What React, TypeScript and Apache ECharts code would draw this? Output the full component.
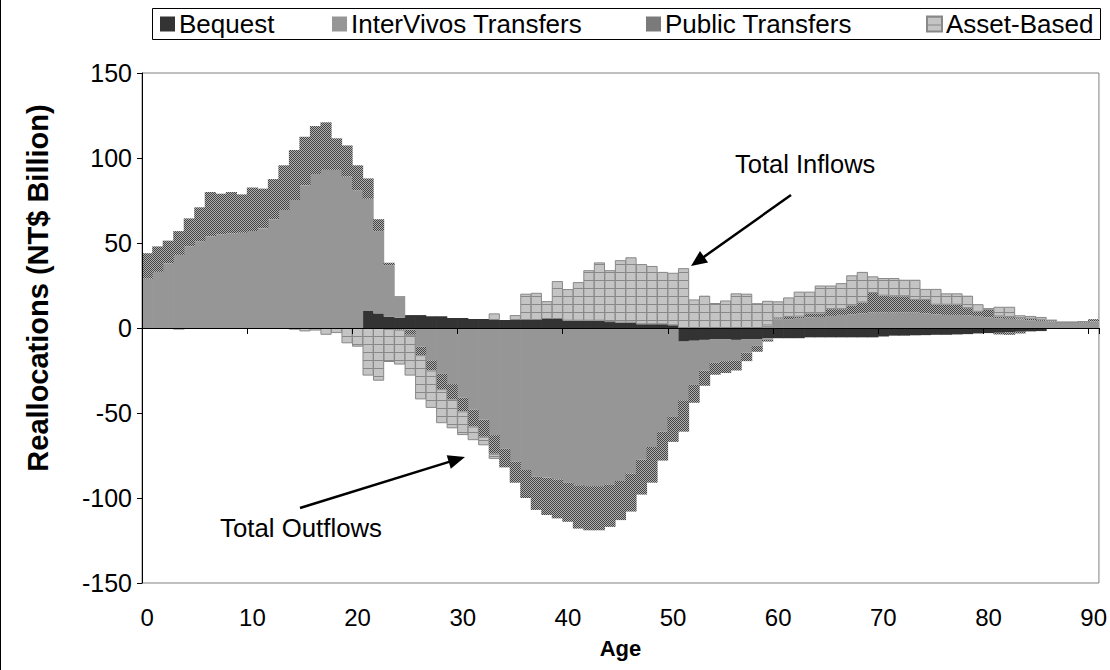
import React, { useEffect, useRef } from 'react';
import * as echarts from 'echarts';

const FONT = "'Liberation Sans', Arial, Helvetica, sans-serif";

// Ages 0..90 (category labels)
const ages: string[] = Array.from({ length: 91 }, (_, i) => String(i));
const legendNames = ['Bequest', 'InterVivos Transfers', 'Public Transfers', 'Asset-Based'];

// ---- Inflows (positive), NT$ billion, ages 0..90 ----
const inflowBequest = [
  0, 0, 0, 0, 0, 0, 0, 0, 0, 0,
  0, 0, 0, 0, 0, 0, 0, 0, 0, 0,
  0, 10, 8.6, 6.7, 6.1, 7.6, 7.6, 6.9, 6.9, 5.9,
  5.9, 5.3, 5.3, 4.7, 4.7, 4.7, 4.7, 4.7, 5.3, 5.3,
  4.3, 4.3, 4.3, 4.3, 3.5, 3.1, 3.1, 2.2, 2.2, 2.2,
  1.6, 0, 0, 0, 0, 0, 0, 0, 0, 0,
  0, 0, 0, 0, 0, 0, 0, 0, 0, 0,
  0, 0, 0, 0, 0, 0, 0, 0, 0, 0,
  0, 0, 0, 0, 0, 0, 0, 0, 0, 0,
  0,
];
const inflowInterVivos = [
  29, 33, 38, 43, 48, 51, 54, 55, 55.5, 56,
  57, 58.6, 64, 69.4, 75.3, 84, 90.6, 93, 93, 89,
  81, 66, 48.4, 30.3, 12.7, 0, 0, 0, 0, 0,
  0, 0, 0, 0, 0, 0, 0, 0, 0, 0,
  0, 0, 0, 0, 0, 0, 0, 0, 0, 0,
  0, 0, 0, 0, 0, 0, 0, 0, 0, 1.5,
  5.2, 5.2, 5.8, 6.2, 6.5, 7.1, 7.7, 8.1, 8.5, 9.1,
  9.1, 9.1, 9.1, 9.1, 8.5, 8.1, 7.7, 7.7, 7.3, 7.1,
  6.2, 5.8, 5.4, 5.0, 4.6, 4.2, 3.8, 3.0, 3.0, 3.2,
  3.8,
];
const inflowPublic = [
  15, 15, 13.4, 14, 16.5, 20, 26, 24, 24.5, 22.6,
  25.7, 23.4, 23.6, 26.3, 29.4, 28.5, 28.2, 28, 18.6, 18.4,
  14.7, 12, 7, 1.4, 0, 0, 0, 0, 0, 0,
  0, 0, 0, 0, 0, 0, 0, 0, 0, 0,
  0, 0, 0, 0, 0, 0, 0, 0, 0, 0,
  0, 0, 0, 0, 0, 0, 0, 0, 0, 0,
  0.5, 1.3, 0.9, 2.3, 2, 4, 3.4, 5, 6.5, 11.5,
  9.9, 9.6, 9.6, 7.4, 8, 5.6, 6, 6, 4.4, 2.4,
  4.5, 1, 1, 0.8, 0.8, 0.6, 0.5, 0.3, 0.3, 0.4,
  1.4,
];
const inflowAsset = [
  0, 0, 0, 0, 0, 0, 0, 0, 0, 0,
  0, 0, 0, 0, 0, 0, 0, 0, 0, 0,
  0, 0, 0, 0, 0, 0, 0, 0, 0, 0,
  0, 0, 0, 3.9, 0, 2.9, 15.5, 16, 10.5, 22.3,
  18.6, 22.7, 29.7, 34.3, 30.5, 36.8, 38.5, 35.4, 34.3, 30.8,
  30.9, 35.2, 16.8, 19, 14.7, 16.2, 20.4, 20.2, 14.6, 14.5,
  10, 11.5, 14.7, 12.9, 16.5, 13.9, 15.3, 17.9, 18, 9.8,
  10.4, 10.7, 9.7, 11.9, 6.5, 9.3, 6.7, 6.7, 7.3, 4.5,
  1, 5.7, 6.1, 1.7, 1.7, 1.7, 0.5, 0.3, 0.3, 0.2,
  0,
];

// ---- Outflows (negative), NT$ billion, ages 0..90 ----
const outflowBequest = [
  0, 0, 0, 0, 0, 0, 0, 0, 0, 0,
  0, 0, 0, 0, 0, 0, 0, 0, 0, 0,
  0, 0, 0, 0, 0, 0, 0, 0, 0, 0,
  0, 0, 0, 0, 0, 0, 0, 0, 0, 0,
  0, 0, 0, 0, 0, 0, 0, 0, 0, 0,
  0, -8, -7.5, -7, -6.5, -6.5, -7, -6.5, -6.5, -6,
  -6, -6, -6, -5.5, -5.5, -5.5, -5.5, -5.5, -5.5, -5.5,
  -5, -4.5, -4.5, -4.3, -4.2, -4, -4, -3.8, -3.6, -3.2,
  -3, -2.8, -2.5, -2.2, -2, -1.8, 0, 0, 0, 0,
  0,
];
const outflowInterVivos = [
  0, 0, 0, -1, 0, 0, 0, 0, 0, 0,
  0, 0, 0, 0, 0, 0, 0, 0, 0, 0,
  0, 0, 0, 0, 0, -1, -11, -19, -27, -33,
  -41, -48, -54, -63, -71, -78.5, -83.5, -87.5, -88, -89,
  -91, -92.5, -93, -93, -92, -90, -85.5, -77.5, -70, -61,
  -52, -34.5, -26, -18, -14, -13, -12, -8, -4, -1,
  0, 0, 0, 0, 0, 0, 0, 0, 0, 0,
  0, 0, 0, 0, 0, 0, 0, 0, 0, 0,
  0, 0, 0, 0, 0, 0, 0, 0, 0, 0,
  0,
];
const outflowPublic = [
  0, 0, 0, 0, 0, 0, 0, 0, 0, 0,
  0, 0, 0, 0, 0, 0, 0, 0, 0, 0,
  0, 0, 0, -0.5, -1, -3, -5, -6, -9, -9,
  -8, -10, -10, -11, -11, -12.5, -16.5, -19.5, -22, -23,
  -23, -25.5, -26, -26, -25, -23, -22.5, -20.5, -21, -17,
  -15, -18.5, -10.5, -9, -7, -7, -6, -5, -3.5, -1,
  0, 0, 0, 0, 0, 0, 0, 0, 0, 0,
  0, 0, 0, 0, 0, 0, 0, 0, 0, 0,
  0, -1, -1.5, -1, 0, 0, 0, 0, 0, 0,
  0,
];
const outflowAsset = [
  0, 0, 0, 0, 0, 0, 0, 0, 0, 0,
  0, 0, 0, 0, -1, -2, -1.5, -4, -3, -9,
  -11, -28, -31, -19.5, -20.5, -24, -26, -22, -20, -17,
  -14, -8, -5, -3, 0, 0, 0, 0, 0, 0,
  0, 0, 0, 0, 0, 0, 0, 0, 0, 0,
  0, 0, 0, 0, 0, 0, 0, 0, 0, 0,
  0, 0, 0, 0, 0, 0, 0, 0, 0, 0,
  0, 0, 0, 0, 0, 0, 0, 0, 0, 0,
  0, 0, 0, 0, 0, 0, 0, 0, 0, 0,
  0,
];

function makeCanvas(w: number, h: number, draw: (ctx: CanvasRenderingContext2D) => void) {
  const c = document.createElement('canvas');
  c.width = w;
  c.height = h;
  const ctx = c.getContext('2d') as CanvasRenderingContext2D;
  draw(ctx);
  return c;
}

export default function App() {
  const ref = useRef<HTMLDivElement>(null);

  useEffect(() => {
    document.body.style.margin = '0';
    if (!ref.current) return;
    const chart = echarts.init(ref.current, undefined, { renderer: 'svg' });

    const pubCanvas = makeCanvas(2, 2, (ctx) => {
      ctx.fillStyle = '#b0b0b0';
      ctx.fillRect(0, 0, 2, 2);
      ctx.fillStyle = '#434343';
      ctx.fillRect(0, 0, 1, 1);
      ctx.fillRect(1, 1, 1, 1);
    });
    const assetCanvas = makeCanvas(4, 8, (ctx) => {
      ctx.fillStyle = '#c4c4c4';
      ctx.fillRect(0, 0, 4, 8);
      ctx.fillStyle = '#888888';
      ctx.fillRect(0, 0, 4, 1);
    });
    const pubPattern: any = { image: pubCanvas, repeat: 'repeat', imageWidth: 2, imageHeight: 2 };
    const assetPattern: any = { image: assetCanvas, repeat: 'repeat', imageWidth: 4, imageHeight: 8 };

    const styles: any[] = [
      { color: '#333333' },
      { color: '#969696' },
      { color: pubPattern },
      { color: assetPattern, borderColor: '#888888', borderWidth: 1 },
    ];

    const mk = (idx: number, data: number[]) => ({
      type: 'bar',
      name: legendNames[idx],
      stack: 'total',
      data: data.map((v) => (v === 0 ? null : v)),
      barWidth: 11.2,
      itemStyle: styles[idx],
      emphasis: { disabled: true },
      z: 2,
    });

    const series = [
      mk(0, inflowBequest),
      mk(1, inflowInterVivos),
      mk(2, inflowPublic),
      mk(3, inflowAsset),
      mk(0, outflowBequest),
      mk(1, outflowInterVivos),
      mk(2, outflowPublic),
      mk(3, outflowAsset),
    ];

    const arrow = (x1: number, y1: number, x2: number, y2: number, head: number, half: number) => {
      const dx = x2 - x1;
      const dy = y2 - y1;
      const len = Math.sqrt(dx * dx + dy * dy);
      const ux = dx / len;
      const uy = dy / len;
      const bx = x2 - ux * head;
      const by = y2 - uy * head;
      const nx = -uy;
      const ny = ux;
      return [
        {
          type: 'line',
          shape: { x1, y1, x2: bx + ux * 2, y2: by + uy * 2 },
          style: { stroke: '#000', lineWidth: 2.5 },
          z: 20,
        },
        {
          type: 'polygon',
          shape: {
            points: [
              [x2, y2],
              [bx + nx * half, by + ny * half],
              [bx - nx * half, by - ny * half],
            ],
          },
          style: { fill: '#000' },
          z: 20,
        },
      ];
    };

    const legendLefts = [160, 332, 646, 926];
    const legends = legendNames.map((n, i) => ({
      data: [n],
      left: legendLefts[i],
      top: 11,
      padding: 0,
      itemWidth: 15,
      itemHeight: 15,
      itemGap: 0,
      icon: 'rect',
      selectedMode: false,
      textStyle: { fontSize: 26, color: '#000', fontFamily: FONT, padding: [0, 0, 0, -1] },
    }));

    const option: any = {
      animation: false,
      backgroundColor: '#ffffff',
      textStyle: { fontFamily: FONT },
      grid: {
        left: 142,
        right: 8,
        top: 73,
        bottom: 87,
        show: true,
        borderColor: '#808080',
        borderWidth: 1,
      },
      legend: legends,
      xAxis: [
        {
          type: 'category',
          data: ages,
          position: 'bottom',
          axisLine: { show: false, onZero: false },
          axisTick: { show: false },
          axisLabel: {
            interval: (i: number) => i % 10 === 0,
            fontSize: 24,
            color: '#000',
            margin: 22,
            fontFamily: FONT,
          },
          splitLine: { show: false },
          name: 'Age',
          nameLocation: 'middle',
          nameGap: 54,
          nameTextStyle: { fontSize: 22, fontWeight: 'bold', color: '#000', fontFamily: FONT },
        },
        {
          type: 'category',
          data: ages,
          position: 'bottom',
          axisLine: { show: true, onZero: true, lineStyle: { color: '#000', width: 1 } },
          axisTick: {
            show: true,
            interval: (i: number) => i % 10 === 0,
            length: 6,
            lineStyle: { color: '#000' },
          },
          axisLabel: { show: false },
          splitLine: { show: false },
          z: 10,
        },
      ],
      yAxis: {
        type: 'value',
        min: -150,
        max: 150,
        interval: 50,
        axisLine: { show: true, lineStyle: { color: '#000', width: 1 } },
        axisTick: { show: true, length: 5, lineStyle: { color: '#000' } },
        splitLine: { show: false },
        axisLabel: { fontSize: 25, color: '#000', margin: 10, fontFamily: FONT },
        z: 10,
      },
      graphic: [
        {
          type: 'line',
          shape: { x1: 0.5, y1: 0, x2: 0.5, y2: 670 },
          style: { stroke: '#000', lineWidth: 1 },
        },
        {
          type: 'rect',
          shape: { x: 152.5, y: 8.5, width: 948, height: 31 },
          style: { fill: 'none', stroke: '#000', lineWidth: 1 },
          z: 0,
        },
        {
          type: 'text',
          x: 38,
          y: 288,
          rotation: Math.PI / 2,
          style: {
            text: 'Reallocations (NT$ Billion)',
            font: `bold 29px ${FONT}`,
            fill: '#000',
            textAlign: 'center',
            textVerticalAlign: 'middle',
          },
        },
        {
          type: 'text',
          x: 735,
          y: 164,
          style: {
            text: 'Total Inflows',
            font: `25.5px ${FONT}`,
            fill: '#000',
            textAlign: 'left',
            textVerticalAlign: 'middle',
          },
          z: 20,
        },
        {
          type: 'text',
          x: 220,
          y: 528,
          style: {
            text: 'Total Outflows',
            font: `25.8px ${FONT}`,
            fill: '#000',
            textAlign: 'left',
            textVerticalAlign: 'middle',
          },
          z: 20,
        },
        ...arrow(791, 195, 691, 266, 16, 7),
        ...arrow(300, 508, 465, 457, 17, 7),
      ],
      series,
    };

    chart.setOption(option);
    return () => {
      chart.dispose();
    };
  }, []);

  return <div ref={ref} style={{ width: 1110, height: 670 }} />;
}
